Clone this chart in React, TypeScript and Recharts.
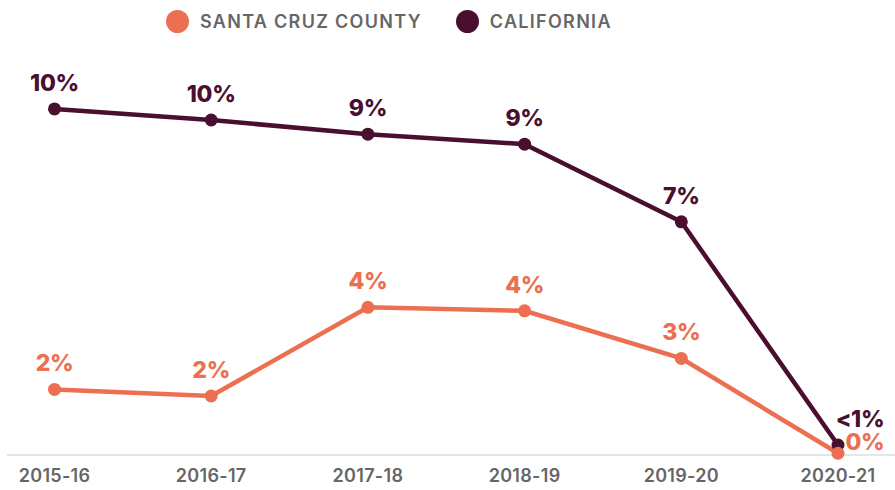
import { LineChart, Line, XAxis, YAxis, LabelList } from 'recharts';

const years = ['2015-16', '2016-17', '2017-18', '2018-19', '2019-20', '2020-21'];
const santaCruz = [1.9, 1.71, 4.28, 4.18, 2.8, 0.05];
const california = [10.03, 9.71, 9.3, 9.01, 6.76, 0.29];
const santaCruzLabels = ['2%', '2%', '4%', '4%', '3%', '0%'];
const californiaLabels = ['10%', '10%', '9%', '9%', '7%', '<1%'];

const ORANGE = '#EB6F50';
const PLUM = '#4A0F2E';
const FONT = 'Inter, "Open Sans", sans-serif';

const data = years.map((year, i) => ({
  year,
  sc: santaCruz[i],
  ca: california[i],
  scLabel: santaCruzLabels[i],
  caLabel: californiaLabels[i],
}));

// last point labels sit to the right of the crossing dots
const makeLabel = (color: string, lastDx: number, lastDy: number) => (props: any) => {
  const { x, y, value, index } = props;
  const last = index === years.length - 1;
  return (
    <text
      x={x + (last ? lastDx : 0)}
      y={y - (last ? lastDy : 18)}
      textAnchor="middle"
      fill={color}
      fontFamily={FONT}
      fontSize={23}
      fontWeight={800}
      letterSpacing={-0.3}
    >
      {value}
    </text>
  );
};

const Tick = (props: any) => {
  const { x, y, payload } = props;
  return (
    <text
      x={x}
      y={y + 19}
      textAnchor="middle"
      fill="#666"
      fontFamily={FONT}
      fontSize={18}
      fontWeight={600}
      letterSpacing={0.3}
    >
      {payload.value}
    </text>
  );
};

const legendItems = [
  { name: 'SANTA CRUZ COUNTY', color: ORANGE },
  { name: 'CALIFORNIA', color: PLUM },
];

export default function App() {
  return (
    <div style={{ position: 'absolute', left: 0, top: 0, width: 895, height: 490, background: '#fff' }}>
      <div
        style={{
          position: 'absolute',
          top: 10,
          left: 166,
          display: 'flex',
          alignItems: 'center',
          fontFamily: FONT,
          fontSize: 18,
          fontWeight: 600,
          color: '#666',
          letterSpacing: 1.3,
        }}
      >
        {legendItems.map((item) => (
          <div key={item.name} style={{ display: 'flex', alignItems: 'center', marginRight: 34 }}>
            <span
              style={{
                width: 23,
                height: 23,
                borderRadius: '50%',
                background: item.color,
                display: 'inline-block',
                marginRight: 11,
              }}
            />
            <span>{item.name}</span>
          </div>
        ))}
      </div>
      <LineChart
        width={895}
        height={490}
        data={data}
        margin={{ top: 41, right: 0, left: 7, bottom: 0 }}
      >
        <XAxis
          dataKey="year"
          height={35}
          padding={{ left: 47.5, right: 57 }}
          axisLine={{ stroke: '#e6e6e6', strokeWidth: 2 }}
          tickLine={false}
          tick={<Tick />}
          interval={0}
        />
        <YAxis hide domain={[0, 12]} />
        <Line
          dataKey="ca"
          stroke={PLUM}
          strokeWidth={4.5}
          dot={{ r: 6.5, fill: PLUM, stroke: PLUM, strokeWidth: 0 }}
          activeDot={false}
          isAnimationActive={false}
        >
          <LabelList dataKey="caLabel" content={makeLabel(PLUM, 22, 18)} />
        </Line>
        <Line
          dataKey="sc"
          stroke={ORANGE}
          strokeWidth={4.5}
          dot={{ r: 6.5, fill: ORANGE, stroke: ORANGE, strokeWidth: 0 }}
          activeDot={false}
          isAnimationActive={false}
        >
          <LabelList dataKey="scLabel" content={makeLabel(ORANGE, 27, 3)} />
        </Line>
      </LineChart>
    </div>
  );
}
